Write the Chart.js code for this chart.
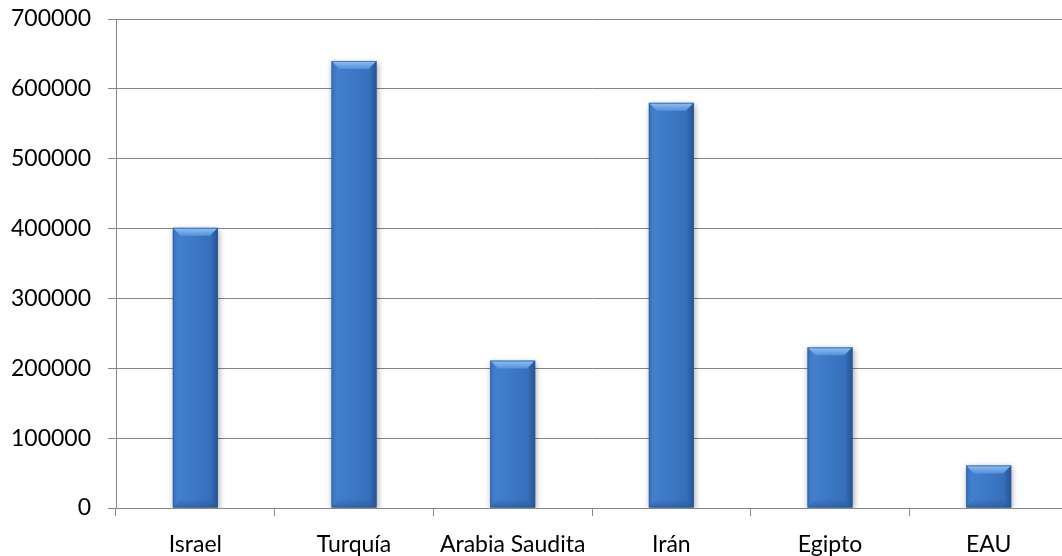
<!DOCTYPE html>
<html>
<head>
<meta charset="utf-8">
<script src="https://cdn.jsdelivr.net/npm/chart.js@4/dist/chart.umd.min.js"></script>
<style>
  html, body { margin: 0; padding: 0; background: #ffffff; overflow: hidden; }
  #wrap { width: 1062px; height: 556px; overflow: hidden; }
  /* plot area runs a few pixels past the right edge of the view */
  #c { display: block; width: 1068px; height: 556px; }
</style>
</head>
<body>
<div id="wrap"><canvas id="c" width="1068" height="556"></canvas></div>
<script>
const countries = ['Israel', 'Turquía', 'Arabia Saudita', 'Irán', 'Egipto', 'EAU'];
const amounts = [401000, 640000, 211000, 580000, 230000, 61000];
const yMin = 0;
const yMax = 700000;
const yStep = 100000;

const GRID = '#868686';
const BAR_SHARE = 0.284;
const LABEL_FONT = { family: 'Lato', size: 23 };

// Horizontal shading across each bar: darker rims, mid-blue body
function barFill(ctx) {
  const chart = ctx.chart;
  const xs = chart.scales && chart.scales.x;
  if (!xs || !chart.chartArea) return '#3b77c4';
  const cx = xs.getPixelForValue(ctx.dataIndex);
  const half = (xs.width / countries.length) * BAR_SHARE / 2;
  if (!Number.isFinite(cx) || !Number.isFinite(half)) return '#3b77c4';
  const g = chart.ctx.createLinearGradient(cx - half, 0, cx + half, 0);
  g.addColorStop(0, '#3a72bc');
  g.addColorStop(0.12, '#437fcc');
  g.addColorStop(0.5, '#3c78c6');
  g.addColorStop(0.85, '#366fba');
  g.addColorStop(1, '#2b5c9c');
  return g;
}

// Soft drop shadow under the bars, then an angled bevel on each bar top/bottom
const bevelPlugin = {
  id: 'bevel',
  beforeDatasetsDraw(chart) {
    const c = chart.ctx;
    c.save();
    c.shadowColor = 'rgba(0,0,0,0.35)';
    c.shadowBlur = 6;
    c.shadowOffsetX = 1;
    c.shadowOffsetY = 2;
  },
  afterDatasetsDraw(chart) {
    const c = chart.ctx;
    c.restore();
    const meta = chart.getDatasetMeta(0);
    meta.data.forEach(bar => {
      const p = bar.getProps(['x', 'y', 'base', 'width'], true);
      const l = p.x - p.width / 2, r = p.x + p.width / 2;
      const t = p.y, b = p.base;
      const h = b - t;
      const bv = Math.min(8, h / 3);
      c.save();
      // top bevel
      let g = c.createLinearGradient(0, t, 0, t + bv);
      g.addColorStop(0, '#8ec1f3');
      g.addColorStop(1, '#5590da');
      c.fillStyle = g;
      c.beginPath();
      c.moveTo(l, t); c.lineTo(r, t); c.lineTo(r - bv, t + bv); c.lineTo(l + bv, t + bv);
      c.closePath(); c.fill();
      // right face
      g = c.createLinearGradient(r - bv, 0, r, 0);
      g.addColorStop(0, 'rgba(30,70,130,0.0)');
      g.addColorStop(1, 'rgba(30,70,130,0.35)');
      c.fillStyle = g;
      c.beginPath();
      c.moveTo(r, t); c.lineTo(r - bv, t + bv); c.lineTo(r - bv, b - bv); c.lineTo(r, b);
      c.closePath(); c.fill();
      // bottom bevel
      g = c.createLinearGradient(0, b - bv, 0, b);
      g.addColorStop(0, 'rgba(40,85,150,0.1)');
      g.addColorStop(1, 'rgba(30,70,130,0.45)');
      c.fillStyle = g;
      c.beginPath();
      c.moveTo(l, b); c.lineTo(r, b); c.lineTo(r - bv, b - bv); c.lineTo(l + bv, b - bv);
      c.closePath(); c.fill();
      // outline
      c.strokeStyle = 'rgba(40,90,160,0.7)';
      c.lineWidth = 1;
      c.strokeRect(l + 0.5, t + 0.5, p.width - 1, h - 1);
      c.restore();
    });
  }
};

new Chart(document.getElementById('c'), {
  type: 'bar',
  data: {
    labels: countries,
    datasets: [{
      data: amounts,
      backgroundColor: barFill,
      borderWidth: 0,
      categoryPercentage: 1,
      barPercentage: BAR_SHARE
    }]
  },
  options: {
    responsive: false,
    animation: false,
    events: [],
    layout: { padding: { top: 19, right: 0, left: 0, bottom: 0 } },
    plugins: {
      legend: { display: false },
      tooltip: { enabled: false },
      title: { display: false }
    },
    scales: {
      x: {
        grid: {
          display: true,
          drawOnChartArea: false,
          drawTicks: true,
          tickLength: 8,
          color: GRID,
          offset: true
        },
        border: { display: true, color: GRID, width: 1 },
        ticks: {
          color: '#000000',
          font: LABEL_FONT,
          padding: 15,
          maxRotation: 0,
          autoSkip: false
        },
        afterFit(scale) {
          scale.height = 48;
          scale.paddingLeft = 0;
          scale.paddingRight = 0;
        }
      },
      y: {
        min: yMin,
        max: yMax,
        grid: {
          color: GRID,
          lineWidth: 1,
          drawTicks: true,
          tickLength: 8
        },
        border: { display: true, color: GRID, width: 1 },
        ticks: {
          stepSize: yStep,
          color: '#000000',
          font: LABEL_FONT,
          padding: 17,
          callback: v => String(v)
        },
        afterFit(scale) {
          scale.width = 116;
          scale.paddingTop = 0;
          scale.paddingBottom = 0;
        }
      }
    }
  },
  plugins: [bevelPlugin]
});
</script>
</body>
</html>
